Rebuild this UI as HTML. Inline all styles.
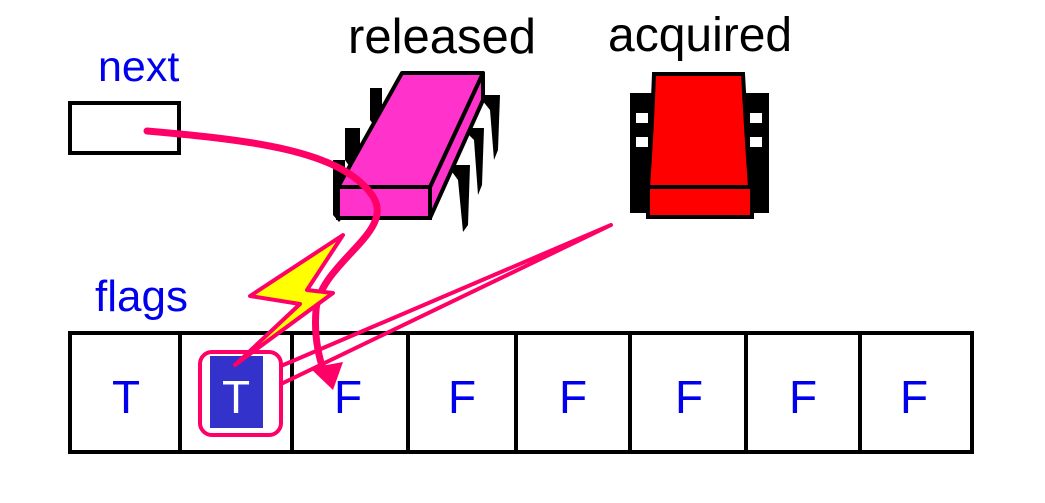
<!DOCTYPE html>
<html><head><meta charset="utf-8"><style>
html,body{margin:0;padding:0;background:#fff;}
svg{display:block;}
text{font-family:"Liberation Sans",sans-serif;}
</style></head><body>
<svg width="1045" height="503" viewBox="0 0 1045 503">
<g>
<text x="98" y="81" font-size="43" fill="#0000ee">next</text>
<rect x="70" y="103" width="109" height="50" fill="#fff" stroke="#000" stroke-width="4"/>
</g>
<text x="348" y="53" font-size="49" fill="#000">released</text>
<text x="608" y="51" font-size="48" fill="#000">acquired</text>

<g>
<g fill="#000">
<polygon points="370,88 382,88 382,120 376,128 370,120"/>
<polygon points="345,128 360,128 360,160 352,170 345,160"/>
<polygon points="333,160 345,160 345,215 339,222 333,215"/>
<polygon points="478,95 500,95 498,150 494,160 490,110"/>
<polygon points="462,128 484,128 482,185 478,195 474,140"/>
<polygon points="447,165 470,165 468,225 463,232 458,180"/>
</g>
<polygon points="430,187 483,73 483,100 430,218" fill="#ff33cc" stroke="#000" stroke-width="4" stroke-linejoin="round"/>
<polygon points="402,73 483,73 430,187 338,187" fill="#ff33cc" stroke="#000" stroke-width="4" stroke-linejoin="round"/>
<rect x="338" y="187" width="92" height="31" fill="#ff33cc" stroke="#000" stroke-width="4"/>
</g>

<g>
<g fill="#000">
<rect x="630" y="93" width="24" height="120"/>
<rect x="745" y="93" width="24" height="120"/>
</g>
<rect x="636" y="113" width="12" height="10" fill="#fff"/>
<rect x="636" y="137" width="12" height="10" fill="#fff"/>
<rect x="750" y="113" width="12" height="10" fill="#fff"/>
<rect x="750" y="137" width="12" height="10" fill="#fff"/>
<path d="M654,74 L743,74 Q746,130 750,187 L648,187 Q652,130 654,74 Z" fill="#ff0000" stroke="#000" stroke-width="4"/>
<rect x="648" y="187" width="104" height="30" fill="#ff0000" stroke="#000" stroke-width="4"/>
</g>

<text x="95" y="311" font-size="44" fill="#0000ee">flags</text>
<g stroke="#000" stroke-width="4" fill="#fff">
<rect x="70" y="333" width="902" height="119"/>
<line x1="180" y1="333" x2="180" y2="452"/>
<line x1="292" y1="333" x2="292" y2="452"/>
<line x1="408" y1="333" x2="408" y2="452"/>
<line x1="516" y1="333" x2="516" y2="452"/>
<line x1="630" y1="333" x2="630" y2="452"/>
<line x1="746" y1="333" x2="746" y2="452"/>
<line x1="860" y1="333" x2="860" y2="452"/>
</g>
<rect x="210" y="356" width="53" height="72" fill="#3333cc"/>
<rect x="200" y="352" width="81" height="83" rx="12" fill="none" stroke="#ff0066" stroke-width="4"/>
<g font-size="46" text-anchor="middle" fill="#0000ee">
<text x="126" y="413">T</text>
<text x="236" y="413" fill="#fff">T</text>
<text x="348" y="413">F</text>
<text x="462" y="413">F</text>
<text x="573" y="413">F</text>
<text x="689" y="413">F</text>
<text x="803" y="413">F</text>
<text x="914" y="413">F</text>
</g>
<polyline points="281,366 611,225 281,384" fill="none" stroke="#ff0066" stroke-width="4" stroke-linejoin="round"/>
<path d="M147,131 C250,140 340,150 372,195 C398,232 320,262 316,310 C314,335 318,355 324,372" fill="none" stroke="#ff0066" stroke-width="7" stroke-linecap="round"/>
<polygon points="310,368 343,362 333,390" fill="#ff0066"/>
<polygon points="343,235 250,296 300,304 235,365 333,293 307,290" fill="#ffff00" stroke="#ff0066" stroke-width="4" stroke-linejoin="round"/>
</svg>
</body></html>
